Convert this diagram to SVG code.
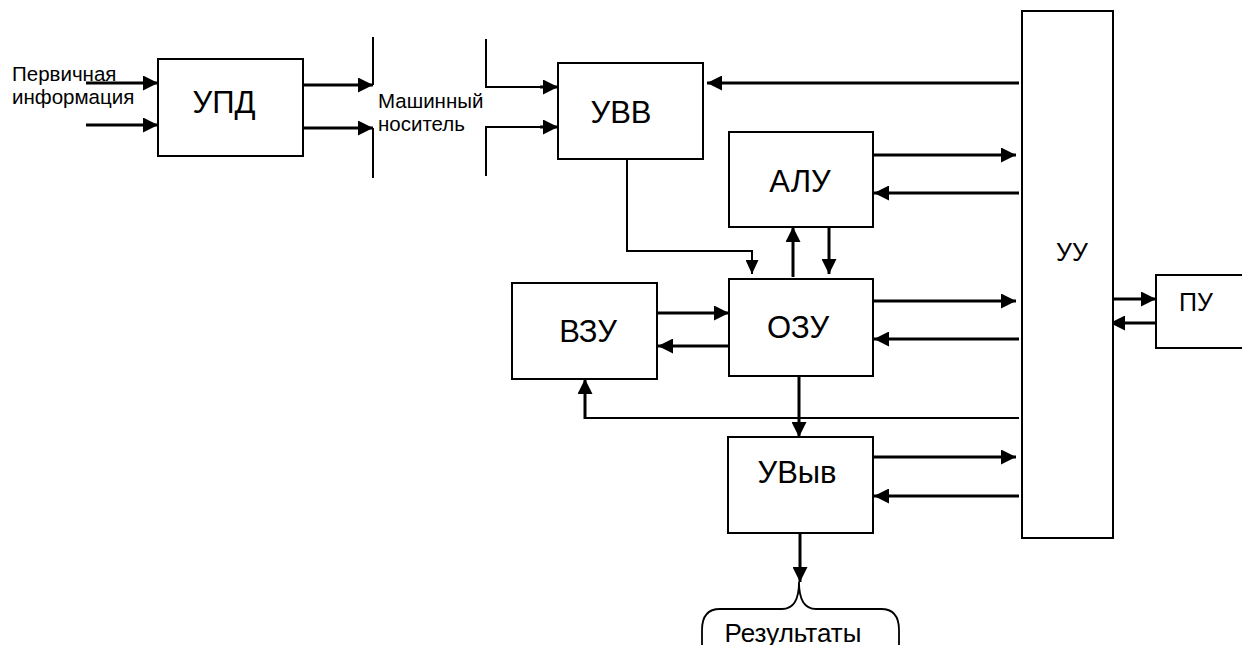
<svg xmlns="http://www.w3.org/2000/svg" width="1242" height="645" viewBox="0 0 1242 645">
<defs>
<marker id="ah" markerUnits="userSpaceOnUse" markerWidth="15" markerHeight="15" refX="15" refY="7.5" orient="auto">
<path d="M0,0 L15,7.5 L0,15 z" fill="#000"/>
</marker>
<marker id="ahs" markerUnits="userSpaceOnUse" markerWidth="14" markerHeight="13" refX="14" refY="6.5" orient="auto">
<path d="M0,0 L14,6.5 L0,13 z" fill="#000"/>
</marker>
</defs>
<style>
.box{fill:#fff;stroke:#000;stroke-width:2}
.t{font-family:"Liberation Sans",Arial,sans-serif;fill:#000}
.big{font-size:31px;text-anchor:middle}
.mid{font-size:25px;text-anchor:middle}
.sm{font-size:20.5px}
.a{fill:none;stroke:#000;stroke-width:3;marker-end:url(#ah)}
.l{fill:none;stroke:#000;stroke-width:3}
.thin{fill:none;stroke:#000;stroke-width:2}
</style>
<rect width="1242" height="645" fill="#fff"/>
<g id="connectors">
<!-- inputs to УПД -->
<line class="a" x1="86" y1="83" x2="158" y2="83"/>
<line class="a" x1="86" y1="125" x2="158" y2="125"/>
<!-- УПД outputs to machine carrier -->
<line class="a" x1="303" y1="85" x2="373" y2="85"/>
<line class="a" x1="303" y1="128" x2="373" y2="128"/>
<line class="thin" x1="373" y1="37" x2="373" y2="85"/>
<line class="thin" x1="373" y1="128" x2="373" y2="178"/>
<!-- machine carrier to УВВ -->
<path class="thin" d="M486,39 L486,87 L545,87"/>
<line class="a" x1="540" y1="87" x2="558" y2="87"/>
<path class="thin" d="M486,176 L486,127 L545,127"/>
<line class="a" x1="540" y1="127" x2="558" y2="127"/>
<!-- УУ to УВВ -->
<line class="a" x1="1019" y1="83" x2="707" y2="83"/>
<!-- УВВ to ОЗУ -->
<path class="thin" d="M627,159 L627,251 L752,251 L752,274" marker-end="url(#ahs)"/>
<!-- АЛУ / ОЗУ -->
<line class="a" x1="793" y1="277" x2="793" y2="227"/>
<line class="a" x1="829" y1="227" x2="829" y2="274"/>
<!-- АЛУ / УУ -->
<line class="a" x1="873" y1="155" x2="1016" y2="155"/>
<line class="a" x1="1019" y1="193" x2="874" y2="193"/>
<!-- ОЗУ / УУ -->
<line class="a" x1="873" y1="301" x2="1016" y2="301"/>
<line class="a" x1="1019" y1="339" x2="874" y2="339"/>
<!-- ВЗУ / ОЗУ -->
<line class="a" x1="657" y1="313" x2="729" y2="313"/>
<line class="a" x1="729" y1="346" x2="658" y2="346"/>
<!-- УУ to ВЗУ -->
<line class="thin" x1="1019" y1="418" x2="584" y2="418"/>
<line class="a" x1="585" y1="419" x2="585" y2="379"/>
<!-- ОЗУ to УВыв -->
<line class="a" x1="799" y1="376" x2="799" y2="437"/>
<!-- УВыв / УУ -->
<line class="a" x1="873" y1="457" x2="1016" y2="457"/>
<line class="a" x1="1019" y1="496" x2="874" y2="496"/>
<!-- УВыв to results -->
<line class="a" x1="800" y1="533" x2="800" y2="582"/>
<!-- УУ / ПУ -->
<line class="a" x1="1108" y1="299" x2="1156" y2="299"/>
<line class="a" x1="1156" y1="323" x2="1110" y2="323"/>
<!-- brace -->
<path fill="none" stroke="#000" stroke-width="1.8" d="M702,645 L702,630 Q702,609 720,609 L782,609 Q799,609 799,582 Q799,609 816,609 L881,609 Q899,609 899,630 L899,645"/>
</g>
<g id="upd">
<rect class="box" x="158" y="59" width="145" height="97"/>
<text class="t big" x="224" y="113">УПД</text>
</g>
<g id="uvv">
<rect class="box" x="558" y="63" width="145" height="96"/>
<text class="t big" x="621" y="123">УВВ</text>
</g>
<g id="alu">
<rect class="box" x="729" y="132" width="144" height="95"/>
<text class="t big" x="800" y="192">АЛУ</text>
</g>
<g id="ozu">
<rect class="box" x="729" y="279" width="144" height="97"/>
<text class="t big" x="798" y="338">ОЗУ</text>
</g>
<g id="vzu">
<rect class="box" x="512" y="283" width="145" height="96"/>
<text class="t big" x="588" y="342">ВЗУ</text>
</g>
<g id="uvyv">
<rect class="box" x="728" y="437" width="145" height="96"/>
<text class="t big" x="797" y="483">УВыв</text>
</g>
<g id="uu">
<rect class="box" x="1022" y="11" width="91" height="527"/>
<text class="t mid" x="1072" y="261">УУ</text>
</g>
<g id="pu">
<rect class="box" x="1156" y="275" width="100" height="73"/>
<text class="t mid" x="1196" y="311">ПУ</text>
</g>
<g id="labels">
<text class="t sm" x="12" y="81">Первичная</text>
<text class="t sm" x="12" y="104">информация</text>
<text class="t sm" x="378" y="108">Машинный</text>
<text class="t sm" x="378" y="131">носитель</text>
<text class="t" font-size="26px" text-anchor="middle" x="793" y="642">Результаты</text>
</g>
</svg>
